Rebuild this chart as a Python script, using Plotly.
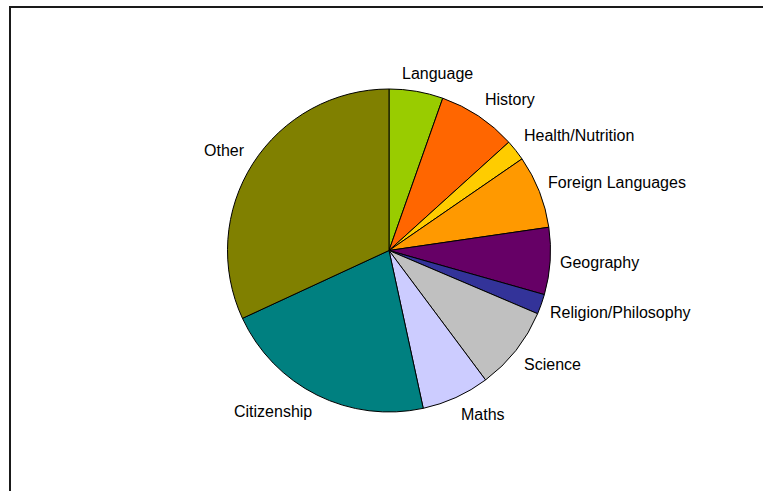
import math
import plotly.graph_objects as go

# ---- data (percent share per subject) ----
labels = ["Language", "History", "Health/Nutrition", "Foreign Languages",
          "Geography", "Religion/Philosophy", "Science", "Maths",
          "Citizenship", "Other"]
values = [5.4, 7.9, 2.1, 7.3, 6.7, 2.0, 8.4, 6.8, 21.5, 31.9]
colors = ["#99CC00", "#FF6600", "#FFCC00", "#FF9900", "#660066",
          "#333399", "#C0C0C0", "#CCCCFF", "#008080", "#808000"]

W, H = 763, 491
CX, CY, R = 389.0, 250.5, 161.5
FONT = dict(family="Liberation Sans, Arial, sans-serif", size=16, color="#000000")

fig = go.Figure(go.Pie(
    labels=labels, values=values, sort=False, direction="clockwise",
    rotation=0, textinfo="none", hoverinfo="label+percent",
    marker=dict(colors=colors, line=dict(color="#000000", width=1)),
    domain=dict(x=[(CX - R) / W, (CX + R) / W],
                y=[1 - (CY + R) / H, 1 - (CY - R) / H]),
    showlegend=False,
))

# outside labels placed at each slice's mid-angle (Excel-like placement)
total = sum(values)
cum = 0.0
annotations = []
RL = R + 7.5
KX, KY = 3.4, 1.6
BOXH = 20.0
for lab, v in zip(labels, values):
    mid = (cum + v / 2) / total * 2 * math.pi
    cum += v
    s, c = math.sin(mid), math.cos(mid)
    px = CX + RL * s
    py = CY - RL * c
    sx = max(-1.0, min(1.0, KX * s))
    sy = max(-1.0, min(1.0, KY * c))
    if sx >= 1:
        xa, x = "left", px
    elif sx <= -1:
        xa, x = "right", px
    else:
        w = len(lab) * 0.55 * FONT["size"]
        xa, x = "center", px + (w / 2) * sx
    y = py - (BOXH / 2) * sy
    annotations.append(dict(
        text=lab, x=x / W, y=1 - y / H, xref="paper", yref="paper",
        xanchor=xa, yanchor="middle", showarrow=False, font=FONT))

fig.update_layout(
    width=W, height=H,
    margin=dict(l=0, r=0, t=0, b=0),
    paper_bgcolor="#FFFFFF", plot_bgcolor="#FFFFFF",
    annotations=annotations,
    shapes=[dict(type="rect", xref="paper", yref="paper",
                 x0=10 / W, x1=1.2, y0=-0.2, y1=1 - 7 / H,
                 line=dict(color="#1a1a1a", width=2), fillcolor="rgba(0,0,0,0)",
                 layer="below")],
)

fig.write_html(
    "out.html",
    config={"displayModeBar": False},
    post_script="document.body.style.margin='0px';document.body.style.overflow='hidden';",
)
